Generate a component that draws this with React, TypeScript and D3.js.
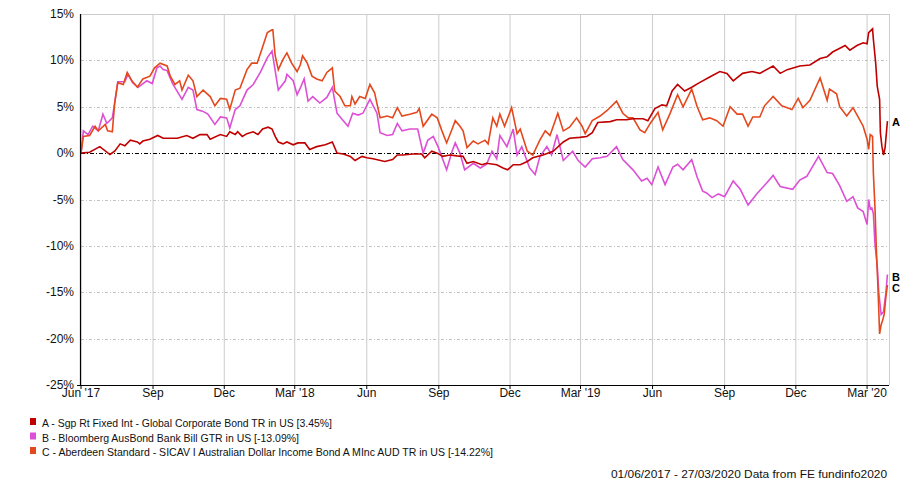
import React from 'react';
import * as d3 from 'd3';

// ---------- data ----------
const START = new Date(2017, 5, 1); // 01/06/2017
const END_DAY = 1032;

const seriesLabels = [
  'A - Sgp Rt Fixed Int - Global Corporate Bond TR in US [3.45%]',
  'B - Bloomberg AusBond Bank Bill GTR in US [-13.09%]',
  'C - Aberdeen Standard - SICAV I Australian Dollar Income Bond A MInc AUD TR in US [-14.22%]',
];
const seriesKeys = ['A', 'B', 'C'];
const seriesColors = ['#c00000', '#dd4fd5', '#e4481d'];

const yTicks = [15, 10, 5, 0, -5, -10, -15, -20, -25];

const xTickDates = [
  '2017-06-01', '2017-09-01', '2017-12-01', '2018-03-01', '2018-06-01', '2018-09-01',
  '2018-12-01', '2019-03-01', '2019-06-01', '2019-09-01', '2019-12-01', '2020-03-01',
];
const xTickLabels = ["Jun '17", 'Sep', 'Dec', "Mar '18", 'Jun', 'Sep', 'Dec', "Mar '19", 'Jun', 'Sep', 'Dec', "Mar '20"];

// [day offset from 01/06/2017, % return]
const dataA: [number, number][] = [
  [0, 0], [11, 0.1], [24, 0.7], [37, -0.15], [43, 0.2], [50, 1.0], [56, 0.8], [63, 1.4], [72, 1.2],
  [75, 1.0], [79, 1.3], [88, 1.5], [98, 1.9], [105, 1.6], [123, 1.6], [135, 1.9], [143, 1.6], [152, 2.0],
  [161, 2.0], [165, 1.5], [178, 2.0], [186, 1.8], [190, 2.3], [197, 2.0], [200, 2.3], [206, 1.8], [212, 2.1],
  [220, 2.3], [226, 2.0], [232, 2.6], [239, 2.8], [244, 2.6], [248, 1.8], [252, 1.2], [258, 1.0], [263, 1.2],
  [271, 0.9], [277, 1.1], [286, 1.1], [292, 0.4], [301, 0.7], [312, 0.9], [321, 1.2], [327, 0], [335, -0.1],
  [344, -0.35], [350, -0.8], [359, -0.35], [365, -0.5], [373, -0.6], [388, -0.9], [398, -0.7], [404, -0.2],
  [411, -0.2], [424, -0.1], [435, -0.1], [439, -0.5], [448, 0.2], [455, 0], [462, -0.35], [471, -0.2],
  [480, -0.3], [488, -0.35], [493, -1.1], [501, -0.9], [512, -1.25], [518, -1.1], [531, -1.25], [539, -1.6],
  [545, -1.8], [552, -1.25], [561, -1.25], [570, -0.9], [577, -0.5], [590, -0.2], [603, 0.2], [616, 1.2],
  [624, 1.6], [637, 1.7], [646, 1.8], [653, 2.2], [660, 3.3], [676, 3.4], [684, 3.6], [697, 3.6], [705, 3.7],
  [718, 3.7], [724, 3.5], [733, 4.8], [742, 5.2], [748, 5.1], [755, 6.7], [762, 7.4], [771, 6.7], [780, 7.1],
  [790, 7.6], [803, 8.2], [816, 8.8], [825, 8.6], [833, 7.8], [845, 8.6], [857, 8.8], [867, 8.6], [884, 9.4],
  [893, 8.6], [902, 9.0], [918, 9.4], [931, 9.5], [944, 10.2], [953, 10.4], [960, 10.9], [976, 11.6],
  [982, 11.1], [991, 11.6], [999, 11.9], [1004, 11.8], [1006, 13.0], [1011, 13.4], [1012, 12.3], [1015, 9.7],
  [1017, 7.2], [1020, 5.8], [1021, 2.2], [1023, 0.7], [1025, -0.2], [1027, 0.6], [1029, 2.5], [1030, 3.45],
];

const dataB: [number, number][] = [
  [0, 0], [3, 2.4], [9, 2.0], [15, 2.9], [22, 2.4], [28, 4.2], [33, 3.2], [40, 3.8], [43, 5.4], [47, 7.7],
  [56, 7.7], [60, 8.5], [66, 7.6], [73, 7.1], [84, 7.8], [91, 7.5], [97, 9.2], [101, 9.4], [105, 9.0],
  [110, 8.9], [117, 7.5], [129, 5.8], [137, 7.1], [143, 6.8], [148, 4.7], [156, 4.5], [162, 4.2], [171, 3.1],
  [178, 3.9], [186, 3.8], [190, 2.7], [197, 4.7], [203, 5.1], [212, 6.8], [220, 7.4], [229, 8.7], [238, 10.3],
  [244, 11.0], [248, 8.9], [252, 6.8], [261, 7.8], [263, 8.5], [271, 7.8], [276, 6.3], [280, 7.0], [285, 8.0],
  [290, 5.6], [296, 6.1], [305, 5.4], [314, 6.0], [321, 7.1], [327, 4.3], [335, 3.5], [341, 2.9], [347, 4.3],
  [354, 4.1], [360, 4.3], [369, 5.8], [378, 4.3], [382, 2.2], [391, 1.9], [398, 2.0], [404, 3.2], [410, 2.4],
  [420, 2.6], [430, 2.6], [437, 0], [443, 1.4], [450, 1.8], [456, 0.7], [467, -1.8], [474, 0.2], [478, 1.1],
  [484, 0], [490, -1.8], [501, -1.1], [510, -1.6], [518, -1.2], [525, 0.2], [531, -0.6], [535, 1.9],
  [544, 0.7], [552, 2.6], [557, -0.2], [563, 0.7], [573, -1.6], [580, -2.3], [586, -0.4], [595, 0.7],
  [601, -0.2], [608, 2.0], [616, -0.8], [628, 0.2], [635, -0.8], [644, -1.5], [653, -0.6], [663, -0.5],
  [672, -0.35], [684, 0.7], [692, -0.7], [705, -1.8], [716, -3.0], [723, -2.7], [729, -3.4], [737, -1.5],
  [746, -3.4], [756, -1.5], [762, -1.2], [769, -1.8], [780, -0.7], [787, -2.6], [794, -4.1], [799, -4.3],
  [806, -4.8], [814, -4.4], [822, -4.7], [833, -3.0], [842, -3.9], [852, -5.6], [863, -4.4], [876, -3.2],
  [884, -2.4], [893, -3.6], [909, -3.9], [918, -2.9], [927, -2.5], [942, -0.35], [953, -2.1], [960, -2.2],
  [969, -3.5], [978, -5.2], [986, -4.7], [992, -5.9], [999, -6.3], [1004, -7.7], [1006, -5.0], [1008, -6.0],
  [1010, -5.9], [1012, -6.5], [1014, -9.7], [1017, -12.2], [1019, -15.1], [1022, -17.4], [1025, -17.1],
  [1028, -15.1], [1030, -13.09],
];

const dataC: [number, number][] = [
  [0, 0], [3, 1.8], [11, 1.9], [18, 2.9], [22, 2.4], [31, 3.1], [34, 2.4], [40, 2.3], [43, 5.4], [47, 7.6],
  [54, 7.4], [59, 8.7], [65, 7.8], [72, 7.1], [79, 8.0], [88, 8.3], [94, 9.2], [101, 9.7], [110, 9.4],
  [114, 8.3], [120, 7.4], [126, 7.8], [129, 6.8], [137, 8.4], [143, 7.8], [148, 6.1], [156, 6.8], [165, 6.1],
  [171, 5.1], [178, 5.9], [186, 5.8], [190, 4.7], [197, 6.8], [203, 7.0], [212, 9.0], [218, 9.7], [225, 9.7],
  [231, 11.2], [238, 13.0], [244, 13.3], [245, 13.3], [248, 10.5], [252, 9.0], [258, 10.1], [263, 10.8],
  [269, 9.7], [276, 8.8], [280, 9.5], [283, 10.5], [289, 9.7], [295, 8.3], [301, 8.0], [308, 7.8], [314, 8.7],
  [321, 9.2], [324, 6.7], [331, 6.1], [337, 5.1], [344, 5.1], [346, 6.1], [350, 5.3], [356, 6.1], [363, 5.9],
  [369, 7.4], [375, 6.5], [382, 3.8], [391, 4.0], [398, 3.8], [404, 4.9], [410, 4.0], [420, 4.2], [429, 4.4],
  [432, 4.8], [437, 2.9], [448, 4.2], [455, 3.8], [461, 2.4], [467, 1.1], [474, 2.6], [478, 3.5], [484, 2.9],
  [488, 2.4], [493, 0.6], [501, 1.3], [507, 1.0], [516, 1.4], [520, 1.0], [526, 3.8], [531, 2.9], [535, 4.2],
  [541, 2.9], [550, 4.9], [557, 2.1], [561, 2.6], [570, 0.2], [577, -0.2], [586, 1.4], [593, 2.4], [599, 1.9],
  [609, 4.3], [616, 2.4], [624, 2.8], [633, 3.8], [640, 2.9], [644, 2.1], [653, 3.5], [663, 4.0], [672, 4.6],
  [684, 5.6], [692, 4.3], [699, 3.8], [705, 3.8], [714, 2.5], [720, 2.2], [727, 3.2], [737, 4.4], [743, 2.5],
  [752, 4.2], [762, 6.3], [769, 5.0], [780, 6.9], [787, 5.0], [794, 3.6], [803, 3.8], [812, 3.5], [820, 2.9],
  [829, 5.0], [838, 4.2], [845, 4.2], [852, 2.9], [858, 3.9], [867, 3.9], [873, 5.1], [884, 6.1], [895, 5.1],
  [902, 4.9], [908, 4.7], [916, 5.9], [922, 4.9], [931, 5.7], [944, 8.1], [953, 5.7], [956, 6.9], [965, 6.4],
  [969, 5.0], [978, 4.0], [986, 4.9], [992, 4.0], [999, 2.9], [1004, 1.5], [1006, 0.4], [1008, 2.0],
  [1011, 1.8], [1012, -2.1], [1014, -5.7], [1016, -10.7], [1018, -14.7], [1020, -19.5], [1022, -18.5],
  [1024, -18.0], [1026, -17.3], [1028, -15.5], [1030, -14.22],
];

const allData = [dataA, dataB, dataC];

// ---------- layout ----------
const W = 900;
const H = 484;
const M = { left: 81, right: 889, top: 14, bottom: 385 };
const FONT = '"Liberation Sans", Arial, sans-serif';

export default function App() {
  const x = d3
    .scaleTime()
    .domain([START, d3.timeDay.offset(START, END_DAY)])
    .range([M.left, M.right]);
  const y = d3.scaleLinear().domain([-25, 15]).range([M.bottom, M.top]);

  const line = d3
    .line<[number, number]>()
    .x((d) => x(d3.timeDay.offset(START, d[0])))
    .y((d) => y(d[1]));

  const parse = d3.timeParse('%Y-%m-%d');
  const tickX = xTickDates.map((s) => x(parse(s) as Date));

  const drawOrder = [1, 2, 0];
  const lastY = allData.map((d) => y(d[d.length - 1][1]));
  const endLabelY = [lastY[0] + 5, lastY[1] + 6, lastY[1] + 17];
  const legendWidths = [290, 257, 451];

  return (
    <svg
      width={W}
      height={H}
      style={{ position: 'absolute', left: 0, top: 0, background: '#fff' }}
      fontFamily={FONT}
    >
      <rect x={0} y={0} width={W} height={H} fill="#fff" />
      {/* vertical grid */}
      {tickX.map((tx, i) => (
        <line key={'vg' + i} x1={tx} x2={tx} y1={M.top} y2={M.bottom} stroke="#cccccc" strokeWidth={1} />
      ))}
      {/* horizontal grid */}
      {yTicks
        .filter((t) => t !== 0 && t !== 15 && t !== -25)
        .map((t) => (
          <line
            key={'hg' + t}
            x1={M.left}
            x2={M.right}
            y1={Math.round(y(t)) + 0.5}
            y2={Math.round(y(t)) + 0.5}
            stroke="#c4c4c4"
            strokeWidth={1}
            strokeDasharray="3,2,1,2"
          />
        ))}
      {/* borders */}
      <line x1={M.left} x2={M.right} y1={M.top + 0.5} y2={M.top + 0.5} stroke="#cccccc" />
      <line x1={M.right + 0.5} x2={M.right + 0.5} y1={M.top} y2={M.bottom} stroke="#cccccc" />
      {/* zero line */}
      <line
        x1={M.left}
        x2={M.right}
        y1={Math.round(y(0)) + 0.5}
        y2={Math.round(y(0)) + 0.5}
        stroke="#000"
        strokeWidth={1}
        strokeDasharray="4,2,1,2"
      />
      {/* series */}
      {drawOrder.map((i) => (
        <path
          key={'s' + i}
          d={line(allData[i]) || ''}
          fill="none"
          stroke={seriesColors[i]}
          strokeWidth={1.6}
          strokeLinejoin="miter"
        />
      ))}
      {/* axes */}
      <line x1={M.left - 0.5} x2={M.left - 0.5} y1={M.top} y2={M.bottom + 1} stroke="#000" strokeWidth={1.2} />
      <line x1={M.left - 1} x2={M.right} y1={M.bottom + 0.5} y2={M.bottom + 0.5} stroke="#000" strokeWidth={1.2} />
      {tickX.map((tx, i) => (
        <line key={'xt' + i} x1={tx} x2={tx} y1={M.bottom} y2={M.bottom + 4} stroke="#000" />
      ))}
      <line x1={M.left - 4} x2={M.left} y1={M.bottom + 0.5} y2={M.bottom + 0.5} stroke="#000" />
      {/* y labels */}
      {yTicks.map((t) => (
        <text key={'yl' + t} x={74} y={y(t) + 4} textAnchor="end" fontSize={12} fill="#111">
          {t + '%'}
        </text>
      ))}
      {/* x labels */}
      {xTickLabels.map((l, i) => (
        <text key={'xl' + i} x={tickX[i]} y={397} textAnchor="middle" fontSize={12} fill="#111">
          {l}
        </text>
      ))}
      {/* end labels */}
      {seriesKeys.map((k, i) => (
        <text key={'el' + k} x={892} y={endLabelY[i]} fontSize={11} fontWeight="bold" fill="#000">
          {k}
        </text>
      ))}
      {/* legend */}
      {seriesLabels.map((l, i) => (
        <g key={'lg' + i}>
          <rect x={30} y={418 + i * 14.5} width={6} height={7} fill={seriesColors[i]} />
          <text
            x={42}
            y={427 + i * 14.5}
            fontSize={11.5}
            fill="#111"
            textLength={legendWidths[i]}
            lengthAdjust="spacingAndGlyphs"
          >
            {l}
          </text>
        </g>
      ))}
      <text x={611} y={478} fontSize={11.5} fill="#111" textLength={276} lengthAdjust="spacingAndGlyphs">
        01/06/2017 - 27/03/2020 Data from FE fundinfo2020
      </text>
    </svg>
  );
}
